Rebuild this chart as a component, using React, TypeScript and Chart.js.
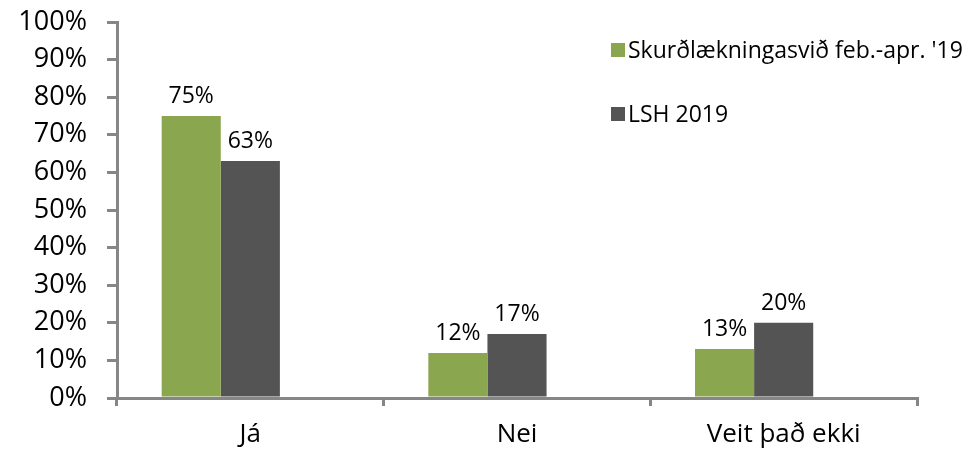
import React, { useEffect, useRef } from "react";
import { Chart, registerables } from "chart.js";

Chart.register(...registerables);

const categories = ["Já", "Nei", "Veit það ekki"];
const seriesNames = ["Skurðlækningasvið feb.-apr. '19", "LSH 2019", ""];
const skurdValues = [75, 12, 13];
const lshValues = [63, 17, 20];
const emptyValues = [null, null, null];
const seriesColors = ["#8aa64e", "#545454", "rgba(0,0,0,0)"];
const yTicks = [0, 10, 20, 30, 40, 50, 60, 70, 80, 90, 100];

const FONT = "'Open Sans', 'DejaVu Sans', sans-serif";

const valueLabels = {
  id: "valueLabels",
  afterDatasetsDraw(chart: any) {
    const ctx = chart.ctx;
    ctx.save();
    ctx.font = `23px ${FONT}`;
    ctx.fillStyle = "#000";
    ctx.textAlign = "center";
    ctx.textBaseline = "bottom";
    chart.data.datasets.forEach((ds: any, i: number) => {
      const meta = chart.getDatasetMeta(i);
      meta.data.forEach((bar: any, j: number) => {
        const v = ds.data[j];
        if (v === null || v === undefined) return;
        ctx.fillText(`${v}%`, bar.x, bar.y - 8);
      });
    });
    ctx.restore();
  },
};

const customLegend = {
  id: "customLegend",
  afterDraw(chart: any) {
    const ctx = chart.ctx;
    ctx.save();
    ctx.font = `23px ${FONT}`;
    ctx.textBaseline = "middle";
    ctx.textAlign = "left";
    let row = 0;
    chart.data.datasets.forEach((ds: any) => {
      if (!ds.label) return;
      const y = 50 + row * 64;
      ctx.fillStyle = ds.backgroundColor;
      ctx.fillRect(611, y - 7, 14, 14);
      ctx.fillStyle = "#000";
      ctx.fillText(ds.label, 628, y + 1);
      row++;
    });
    ctx.restore();
  },
};

export default function App() {
  const canvasRef = useRef<HTMLCanvasElement | null>(null);

  useEffect(() => {
    if (!canvasRef.current) return;
    const chart = new Chart(canvasRef.current, {
      type: "bar",
      data: {
        labels: categories,
        datasets: [
          { label: seriesNames[0], data: skurdValues, backgroundColor: seriesColors[0] },
          { label: seriesNames[1], data: lshValues, backgroundColor: seriesColors[1] },
          { label: seriesNames[2], data: emptyValues as any, backgroundColor: seriesColors[2] },
        ],
      },
      options: {
        animation: false,
        responsive: false,
        maintainAspectRatio: false,
        layout: { padding: { top: 22, right: 60, bottom: 0, left: 0 } },
        datasets: {
          bar: { categoryPercentage: 0.665, barPercentage: 1 },
        },
        plugins: {
          legend: { display: false },
          tooltip: { enabled: false },
        },
        scales: {
          x: {
            grid: {
              display: true,
              drawOnChartArea: false,
              drawTicks: true,
              tickLength: 8,
              color: "#868686",
              lineWidth: 3,
              offset: true,
            },
            border: { display: true, color: "#868686", width: 3 },
            ticks: {
              color: "#000",
              font: { family: FONT, size: 26 },
              padding: 13,
            },
            afterFit(scale: any) {
              scale.height = 57;
              scale.paddingLeft = 0;
              scale.paddingRight = 0;
            },
          },
          y: {
            min: 0,
            max: 100,
            afterBuildTicks(scale: any) {
              scale.ticks = yTicks.map((v) => ({ value: v }));
            },
            grid: {
              display: true,
              drawOnChartArea: false,
              drawTicks: true,
              tickLength: 10,
              color: "#868686",
              lineWidth: 3,
            },
            border: { display: true, color: "#868686", width: 3 },
            ticks: {
              color: "#000",
              font: { family: FONT, size: 27 },
              padding: 20,
              callback: (v: any) => `${v}%`,
            },
            afterFit(scale: any) {
              scale.width = 117;
              scale.paddingTop = 0;
              scale.paddingBottom = 0;
            },
          },
        },
      },
      plugins: [valueLabels, customLegend],
    });
    return () => chart.destroy();
  }, []);

  return (
    <div style={{ position: "absolute", left: 0, top: 0, width: 977, height: 455, background: "#fff" }}>
      <canvas ref={canvasRef} width={977} height={455} style={{ width: 977, height: 455 }} />
    </div>
  );
}
